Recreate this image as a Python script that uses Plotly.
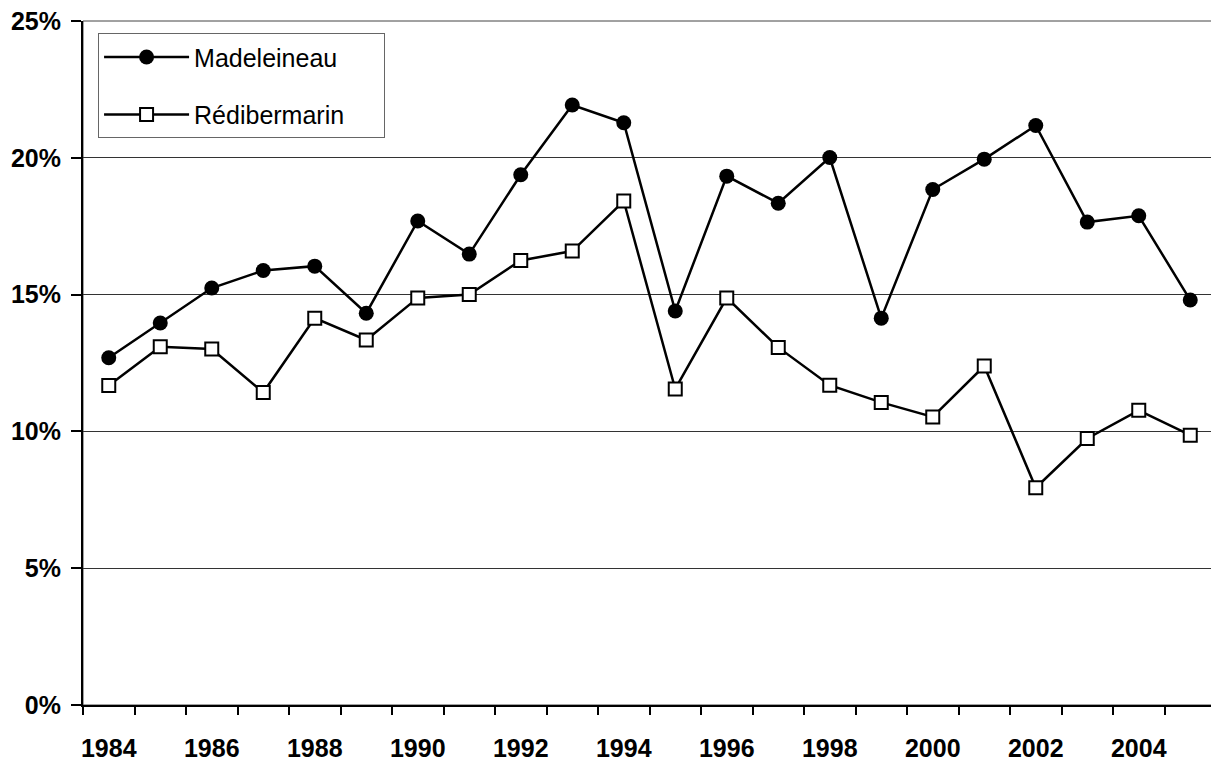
import plotly.graph_objects as go

years = list(range(1984, 2006))
madeleineau = [12.69, 13.96, 15.24, 15.88, 16.04, 14.32, 17.69, 16.48, 19.38, 21.93, 21.28,
               14.40, 19.33, 18.34, 20.01, 14.14, 18.84, 19.95, 21.18, 17.65, 17.88, 14.80]
redibermarin = [11.68, 13.09, 13.01, 11.42, 14.14, 13.34, 14.88, 15.00, 16.25, 16.59, 18.42,
                11.55, 14.88, 13.07, 11.69, 11.06, 10.53, 12.39, 7.94, 9.74, 10.77, 9.86]
series_names = ["Madeleineau", "Rédibermarin"]
label_years = years[::2]
y_ticks = [0, 0.05, 0.10, 0.15, 0.20, 0.25]

FONT = "Arial, Liberation Sans, sans-serif"
PAD = "\u00a0" * 5  # widen legend box to match the reference

fig = go.Figure()
fig.add_trace(go.Scatter(
    x=years, y=[v / 100 for v in madeleineau], name=series_names[0] + PAD,
    mode="lines+markers", legendgroup="a",
    line=dict(color="black", width=2.5),
    marker=dict(symbol="circle", size=15, color="black", line=dict(width=0)),
))
fig.add_trace(go.Scatter(
    x=years, y=[v / 100 for v in redibermarin], name=series_names[1] + PAD,
    mode="lines+markers", legendgroup="b",
    line=dict(color="black", width=2.5),
    marker=dict(symbol="square", size=13, color="white", line=dict(color="black", width=2)),
))

boundaries = [y - 0.5 for y in years] + [years[-1] + 0.5]

# page body has an 8px default margin; size the figure to compensate
fig.update_layout(
    width=1211, height=753,
    margin=dict(l=75, r=3, t=13, b=56),
    paper_bgcolor="white", plot_bgcolor="white",
    font=dict(family=FONT, color="black"),
    showlegend=True,
    legend=dict(
        x=0.0133, y=0.982, xanchor="left", yanchor="top",
        bgcolor="white", bordercolor="#666666", borderwidth=1,
        font=dict(family=FONT, size=25, color="black"),
        traceorder="grouped", tracegroupgap=22,
        itemwidth=85,
    ),
    xaxis=dict(
        range=[years[0] - 0.5, years[-1] + 0.5], automargin=False,
        tickmode="array", tickvals=label_years, ticktext=[str(y) for y in label_years],
        ticks="", showgrid=False, zeroline=False,
        showline=True, linecolor="black", linewidth=2,
        tickfont=dict(family=FONT, size=25, weight="bold", color="black"),
        ticklabelstandoff=20, ticklabeloverflow="allow",
        minor=dict(tickmode="array", tickvals=boundaries, ticks="outside",
                   ticklen=8, tickwidth=2, tickcolor="black", showgrid=False),
    ),
    yaxis=dict(
        range=[0, 0.25], automargin=False,
        tickmode="array", tickvals=y_ticks, tickformat=".0%",
        ticks="outside", ticklen=10, tickwidth=1.5, tickcolor="black",
        showgrid=True, gridcolor="#333333", gridwidth=1, zeroline=False,
        showline=True, linecolor="black", linewidth=2,
        tickfont=dict(family=FONT, size=25, weight="bold", color="black"),
        ticklabelstandoff=5, ticklabeloverflow="allow",
    ),
    shapes=[dict(type="rect", xref="x domain", yref="y domain", x0=0, x1=1, y0=0, y1=1,
                 line=dict(color="#444444", width=1), layer="below")],
)

fig.write_html("out.html")
